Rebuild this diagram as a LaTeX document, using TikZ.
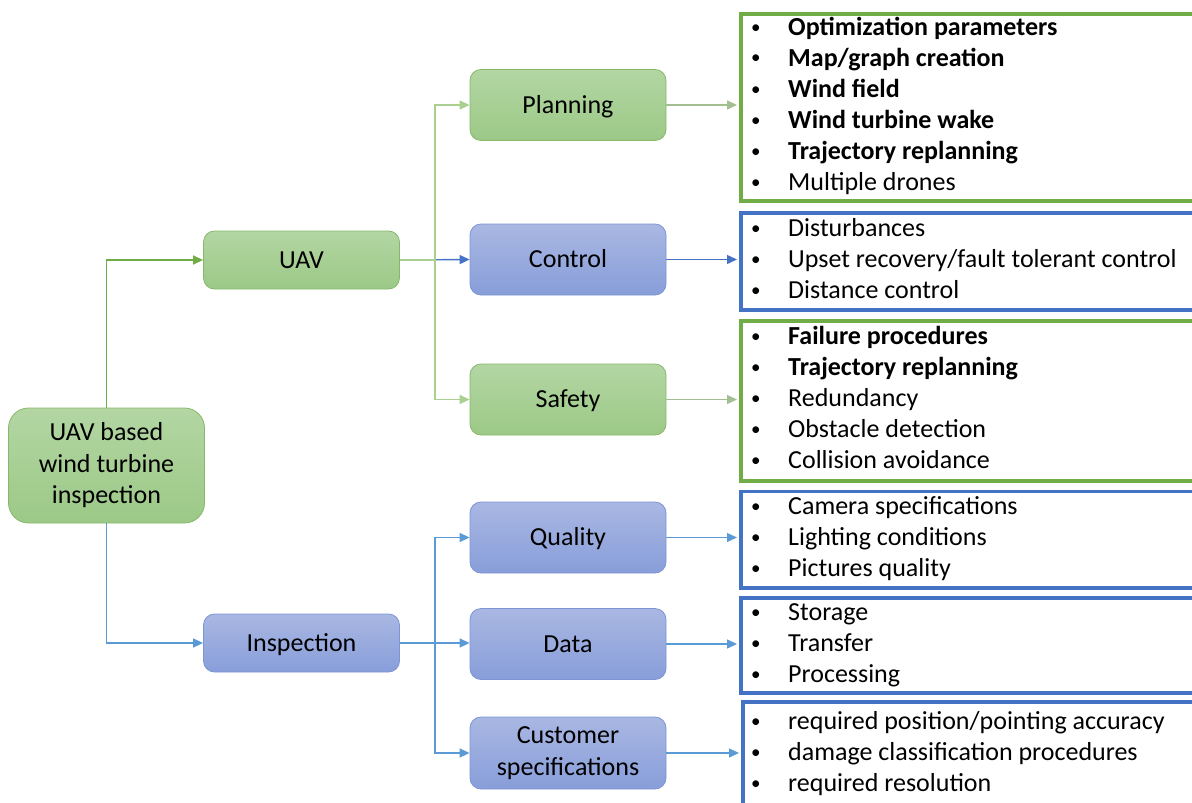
\documentclass[tikz,border=0pt]{standalone}
\usepackage{fontspec}
\setmainfont{Carlito}
\usetikzlibrary{arrows.meta,calc}
\definecolor{gtop}{HTML}{B3D6A3}
\definecolor{gbot}{HTML}{9CC987}
\definecolor{gborder}{HTML}{86B86B}
\definecolor{btop}{HTML}{A9B7E2}
\definecolor{bbot}{HTML}{889EDA}
\definecolor{bborder}{HTML}{7D95D4}
\definecolor{gframe}{HTML}{70AD47}
\definecolor{bframe}{HTML}{4472C4}
\definecolor{gline}{HTML}{70AD47}
\definecolor{lgline}{HTML}{A9D08E}
\definecolor{ggline}{HTML}{A3BF8F}
\definecolor{bline}{HTML}{4472C4}
\definecolor{lbline}{HTML}{5B9BD5}
\newcommand{\nfont}{\fontsize{26}{31.5}\selectfont}
\newcommand{\blt}{\makebox[37pt][l]{\raisebox{2pt}{\fontsize{19}{19}\selectfont\textbullet}}}
\tikzset{
  x=1pt, y=-1pt,
  gnode/.style={draw=gborder, top color=gtop, bottom color=gbot, rounded corners=11pt,
    line width=0.8pt, minimum width=196pt, align=center, font=\nfont, inner sep=2pt},
  bnode/.style={draw=bborder, top color=btop, bottom color=bbot, rounded corners=11pt,
    line width=0.8pt, minimum width=196pt, align=center, font=\nfont, inner sep=2pt},
  oneline/.style={text height=20pt, text depth=4pt},
  gfr/.style={draw=gframe, line width=3.6pt, anchor=north west, inner sep=0pt, minimum width=520pt},
  bfr/.style={draw=bframe, line width=3.6pt, anchor=north west, inner sep=0pt, minimum width=520pt},
  item/.style={anchor=base west, inner sep=0pt, font=\nfont},
  conn/.style={line width=1.4pt, -{Triangle[length=10pt,width=9pt]}},
}
\begin{document}
\begin{tikzpicture}
\useasboundingbox (0,0) rectangle (1192,803);
\clip (0,0) rectangle (1192,803);

% main nodes
\node[gnode, minimum height=115pt, rounded corners=20pt] (root) at (106.5,465.5) {UAV based\\wind turbine\\inspection};
\node[gnode, oneline, minimum height=58pt] (uav) at (301.5,260) {UAV};
\node[bnode, oneline, minimum height=58pt] (insp) at (301.5,643) {Inspection};
\node[gnode, oneline, minimum height=71pt] (plan) at (568,105) {Planning};
\node[bnode, oneline, minimum height=71pt] (ctrl) at (568,259.5) {Control};
\node[gnode, oneline, minimum height=71pt] (safe) at (568,399.5) {Safety};
\node[bnode, oneline, minimum height=71pt] (qual) at (568,537.5) {Quality};
\node[bnode, oneline, minimum height=71pt] (data) at (568,644) {Data};
\node[bnode, minimum height=72pt] (cust) at (568,753) {Customer\\specifications};

% frames
\node[gfr, minimum height=187pt] (fplan) at (739,12) {};
\node[bfr, minimum height=97pt] (fctrl) at (739,211) {};
\node[gfr, minimum height=160pt] (fsafe) at (739,319) {};
\node[bfr, minimum height=96.5pt] (fqual) at (739,489.5) {};
\node[bfr, minimum height=95pt] (fdata) at (739,596) {};
\node[bfr, minimum height=130pt] (fcust) at (741,700) {};

% list items
\node[item] (p1) at (751,35) {\blt\textbf{Optimization parameters}};
\node[item] (p2) at (751,66) {\blt\textbf{Map/graph creation}};
\node[item] (p3) at (751,97) {\blt\textbf{Wind field}};
\node[item] (p4) at (751,128) {\blt\textbf{Wind turbine wake}};
\node[item] (p5) at (751,159) {\blt\textbf{Trajectory replanning}};
\node[item] (p6) at (751,190) {\blt Multiple drones};

\node[item] (c1) at (751,236) {\blt Disturbances};
\node[item] (c2) at (751,267) {\blt Upset recovery/fault tolerant control};
\node[item] (c3) at (751,298) {\blt Distance control};

\node[item] (s1) at (751,344) {\blt\textbf{Failure procedures}};
\node[item] (s2) at (751,375) {\blt\textbf{Trajectory replanning}};
\node[item] (s3) at (751,406) {\blt Redundancy};
\node[item] (s4) at (751,437) {\blt Obstacle detection};
\node[item] (s5) at (751,468) {\blt Collision avoidance};

\node[item] (q1) at (751,514) {\blt Camera specifications};
\node[item] (q2) at (751,545) {\blt Lighting conditions};
\node[item] (q3) at (751,576) {\blt Pictures quality};

\node[item] (d1) at (751,620) {\blt Storage};
\node[item] (d2) at (751,651) {\blt Transfer};
\node[item] (d3) at (751,682) {\blt Processing};

\node[item] (u1) at (751,729) {\blt required position/pointing accuracy};
\node[item] (u2) at (751,760) {\blt damage classification procedures};
\node[item] (u3) at (751,791) {\blt required resolution};

% connectors
\draw[conn, gline] (root.north) |- (uav.west);
\draw[conn, lbline] (root.south) |- (insp.west);
\draw[conn, bline] (uav.east) -- (ctrl.west);
\draw[conn, lgline] (uav.east) -- ++(35,0) |- (plan.west);
\draw[conn, lgline] (uav.east) -- ++(35,0) |- (safe.west);
\draw[conn, lbline] (insp.east) -- (insp.east -| data.west);
\draw[conn, lbline] (insp.east) -- ++(35,0) |- (qual.west);
\draw[conn, lbline] (insp.east) -- ++(35,0) |- (cust.west);

\draw[conn, ggline] (plan.east) -- ([xshift=-2pt]plan.east -| fplan.west);
\draw[conn, bline] (ctrl.east) -- ([xshift=-2pt]ctrl.east -| fctrl.west);
\draw[conn, ggline] (safe.east) -- ([xshift=-2pt]safe.east -| fsafe.west);
\draw[conn, lbline] (qual.east) -- ([xshift=-2pt]qual.east -| fqual.west);
\draw[conn, lbline] (data.east) -- ([xshift=-2pt]data.east -| fdata.west);
\draw[conn, lbline] (cust.east) -- ([xshift=-2pt]cust.east -| fcust.west);
\end{tikzpicture}
\end{document}
